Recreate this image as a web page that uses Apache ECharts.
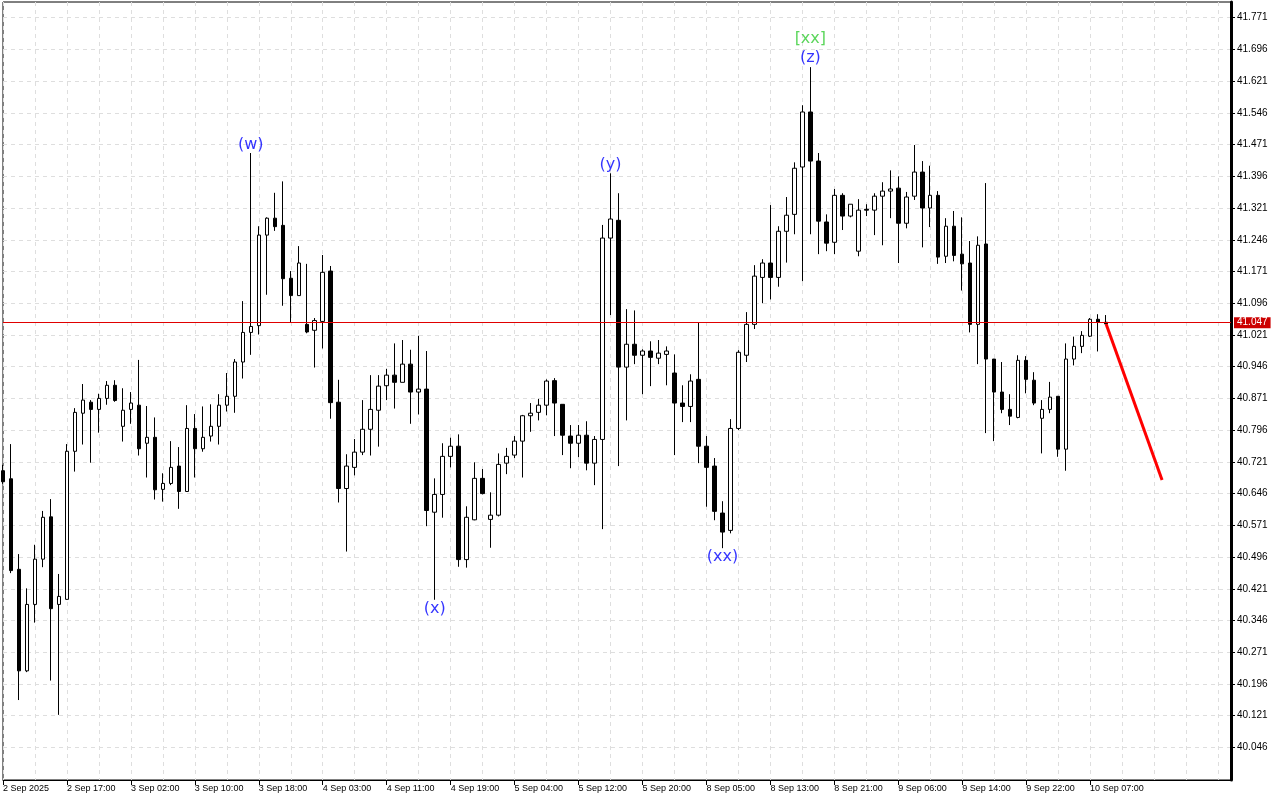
<!DOCTYPE html>
<html>
<head>
<meta charset="utf-8">
<title>Hourly chart</title>
<script src="https://cdn.jsdelivr.net/npm/echarts@6/dist/echarts.min.js"></script>
<style>
  html, body { margin: 0; padding: 0; background: #fff; }
  #chart { width: 1280px; height: 800px; }
</style>
</head>
<body>
<div id="chart"></div>
<script>
// time labels, one every 8 bars
var xLabels = ['2 Sep 2025', '2 Sep 17:00', '3 Sep 02:00', '3 Sep 10:00', '3 Sep 18:00', '4 Sep 03:00',
  '4 Sep 11:00', '4 Sep 19:00', '5 Sep 04:00', '5 Sep 12:00', '5 Sep 20:00', '8 Sep 05:00',
  '8 Sep 13:00', '8 Sep 21:00', '9 Sep 06:00', '9 Sep 14:00', '9 Sep 22:00', '10 Sep 07:00'];

var yTicks = [40.046, 40.121, 40.196, 40.271, 40.346, 40.421, 40.496, 40.571, 40.646, 40.721, 40.796, 40.871,
  40.946, 41.021, 41.096, 41.171, 41.246, 41.321, 41.396, 41.471, 41.546, 41.621, 41.696, 41.771];

// hourly candles, bar 0 .. 138
var opens = [40.700, 40.681, 40.467, 40.227, 40.384, 40.491, 40.591, 40.384, 40.396, 40.746,
  40.836, 40.862, 40.845, 40.871, 40.902, 40.805, 40.845, 40.855, 40.765, 40.779,
  40.656, 40.670, 40.711, 40.651, 40.800, 40.752, 40.782, 40.805, 40.855, 40.876,
  40.957, 41.027, 41.043, 41.257, 41.297, 41.280, 41.155, 41.114, 41.046, 41.032,
  41.053, 41.172, 40.862, 40.658, 40.708, 40.744, 40.798, 40.843, 40.901, 40.926,
  40.909, 40.952, 40.886, 40.893, 40.602, 40.644, 40.734, 40.758, 40.490, 40.584,
  40.682, 40.585, 40.595, 40.718, 40.737, 40.770, 40.830, 40.838, 40.855, 40.913,
  40.857, 40.782, 40.765, 40.784, 40.718, 40.774, 41.250, 41.292, 40.945, 40.999,
  40.973, 40.983, 40.966, 40.975, 40.931, 40.860, 40.852, 40.916, 40.758, 40.711,
  40.600, 40.559, 40.800, 40.973, 41.046, 41.157, 41.191, 41.157, 41.266, 41.306,
  41.418, 41.548, 41.432, 41.288, 41.240, 41.351, 41.302, 41.219, 41.318, 41.316,
  41.349, 41.361, 41.368, 41.285, 41.349, 41.406, 41.321, 41.351, 41.207, 41.278,
  41.212, 41.191, 41.046, 41.236, 40.964, 40.886, 40.845, 40.826, 40.961, 40.914,
  40.824, 40.845, 40.876, 40.751, 40.964, 40.994, 41.018, 41.058, 41.051];
var closes = [40.674, 40.464, 40.227, 40.384, 40.491, 40.590, 40.374, 40.403, 40.746, 40.838,
  40.867, 40.845, 40.871, 40.902, 40.866, 40.843, 40.860, 40.752, 40.779, 40.655,
  40.670, 40.708, 40.651, 40.800, 40.752, 40.779, 40.805, 40.855, 40.876, 40.957,
  41.027, 41.041, 41.257, 41.297, 41.277, 41.154, 41.114, 41.191, 41.028, 41.055,
  41.169, 40.861, 40.658, 40.711, 40.744, 40.798, 40.845, 40.900, 40.926, 40.909,
  40.952, 40.886, 40.893, 40.606, 40.644, 40.734, 40.758, 40.490, 40.590, 40.682,
  40.646, 40.595, 40.715, 40.734, 40.770, 40.830, 40.836, 40.855, 40.912, 40.860,
  40.784, 40.765, 40.784, 40.718, 40.774, 41.250, 41.295, 40.945, 40.999, 40.973,
  40.983, 40.968, 40.978, 40.983, 40.860, 40.852, 40.912, 40.758, 40.708, 40.604,
  40.555, 40.800, 40.980, 41.046, 41.160, 41.191, 41.157, 41.266, 41.304, 41.415,
  41.548, 41.432, 41.290, 41.238, 41.351, 41.302, 41.330, 41.316, 41.316, 41.349,
  41.361, 41.366, 41.285, 41.347, 41.406, 41.321, 41.351, 41.205, 41.278, 41.209,
  41.189, 41.046, 41.233, 40.964, 40.886, 40.845, 40.829, 40.961, 40.916, 40.860,
  40.845, 40.874, 40.751, 40.964, 40.994, 41.020, 41.058, 41.051, 41.047];
var lows = [40.669, 40.458, 40.158, 40.224, 40.341, 40.472, 40.204, 40.123, 40.395, 40.698,
  40.762, 40.719, 40.790, 40.856, 40.863, 40.769, 40.811, 40.736, 40.684, 40.632,
  40.627, 40.666, 40.610, 40.650, 40.684, 40.745, 40.769, 40.762, 40.840, 40.837,
  40.918, 40.974, 41.022, 41.116, 41.267, 41.090, 41.050, 41.114, 41.025, 40.944,
  40.989, 40.823, 40.625, 40.509, 40.689, 40.737, 40.736, 40.757, 40.867, 40.847,
  40.909, 40.811, 40.833, 40.569, 40.395, 40.589, 40.708, 40.473, 40.471, 40.583,
  40.644, 40.518, 40.592, 40.692, 40.730, 40.684, 40.792, 40.819, 40.831, 40.782,
  40.737, 40.706, 40.732, 40.701, 40.666, 40.562, 41.068, 40.711, 40.819, 40.952,
  40.881, 40.900, 40.952, 40.902, 40.737, 40.815, 40.815, 40.718, 40.615, 40.583,
  40.517, 40.552, 40.796, 40.957, 41.035, 41.096, 41.105, 41.135, 41.192, 41.259,
  41.148, 41.259, 41.212, 41.219, 41.212, 41.269, 41.299, 41.207, 41.302, 41.257,
  41.233, 41.297, 41.191, 41.273, 41.340, 41.228, 41.276, 41.189, 41.191, 41.195,
  41.126, 41.027, 40.952, 40.789, 40.770, 40.836, 40.808, 40.824, 40.883, 40.855,
  40.741, 40.836, 40.733, 40.700, 40.949, 40.978, 41.016, 40.982, 41.047];
var highs = [40.714, 40.763, 40.503, 40.422, 40.525, 40.605, 40.633, 40.456, 40.763, 40.848,
  40.905, 40.867, 40.882, 40.912, 40.914, 40.895, 40.886, 40.962, 40.853, 40.826,
  40.694, 40.770, 40.756, 40.855, 40.834, 40.852, 40.857, 40.881, 40.931, 40.964,
  41.101, 41.451, 41.278, 41.299, 41.357, 41.384, 41.172, 41.231, 41.189, 41.061,
  41.210, 41.184, 40.915, 40.739, 40.775, 40.867, 40.926, 40.926, 40.941, 41.001,
  41.009, 40.986, 41.019, 40.983, 40.682, 40.765, 40.778, 40.786, 40.616, 40.720,
  40.704, 40.649, 40.741, 40.754, 40.782, 40.832, 40.860, 40.870, 40.916, 40.919,
  40.857, 40.808, 40.808, 40.817, 40.782, 41.281, 41.403, 41.356, 41.082, 41.079,
  40.987, 41.006, 41.009, 40.994, 40.975, 40.902, 40.928, 41.051, 40.782, 40.730,
  40.628, 40.822, 40.985, 41.075, 41.186, 41.200, 41.328, 41.278, 41.347, 41.429,
  41.564, 41.654, 41.451, 41.306, 41.366, 41.356, 41.330, 41.342, 41.330, 41.356,
  41.382, 41.410, 41.396, 41.359, 41.470, 41.432, 41.421, 41.361, 41.297, 41.314,
  41.299, 41.243, 41.254, 41.380, 40.964, 40.957, 40.881, 40.973, 40.971, 40.933,
  40.867, 40.910, 40.876, 41.001, 41.017, 41.030, 41.061, 41.070, 41.068];

var lastPrice = 41.047;

// projected move
var forecastBars = [138, 145];
var forecastPrices = [41.047, 40.678];

// wave marks
var waveText = ['(w)', '(x)', '(y)', '(xx)', '(z)'];
var waveBars = [31, 54, 76, 90, 101];
var wavePrices = [41.470, 40.373, 41.423, 40.496, 41.676];
var degreeText = ['[xx]'];
var degreeBars = [101];
var degreePrices = [41.721];

var chart = echarts.init(document.getElementById('chart'));

var candles = opens.map(function (o, i) {
  return [i, o, closes[i], lows[i], highs[i]];
});
var labelBars = xLabels.map(function (t, i) { return i * 8; });
var gridDash = { color: '#dedede', type: [4, 4], width: 1 };
var axisFont = { color: '#000', fontFamily: 'Liberation Sans, Arial, sans-serif' };

function marks(texts, bars, prices) {
  return texts.map(function (t, i) {
    return { value: [bars[i], prices[i]], name: t };
  });
}

chart.setOption({
  animation: false,
  backgroundColor: '#fff',
  grid: {
    left: 2, top: 2, right: 49, bottom: 20,
    show: true, borderColor: '#000', borderWidth: 1
  },
  xAxis: [
    {
      type: 'value', min: 0, max: 153.625, interval: 4,
      axisLine: { show: false }, axisTick: { show: false }, axisLabel: { show: false },
      splitLine: { show: true, lineStyle: gridDash }
    },
    {
      type: 'value', position: 'bottom', min: 0, max: 153.625,
      axisLine: { show: true, onZero: false, lineStyle: { color: '#000', width: 1 } },
      axisTick: { show: true, customValues: labelBars, length: 5, lineStyle: { color: '#000' } },
      axisLabel: Object.assign({
        customValues: labelBars, align: 'left', fontSize: 9, margin: 4,
        formatter: function (v) { return xLabels[Math.round(v / 8)] || ''; }
      }, axisFont),
      splitLine: { show: false }
    }
  ],
  yAxis: {
    type: 'value', position: 'right', min: 39.969, max: 41.808,
    axisLine: { show: true, onZero: false, lineStyle: { color: '#000', width: 3 } },
    axisTick: { show: true, customValues: yTicks, length: 4, lineStyle: { color: '#000' } },
    axisLabel: Object.assign({
      customValues: yTicks, fontSize: 10, margin: 6,
      formatter: function (v) { return v.toFixed(3); }
    }, axisFont),
    splitLine: { show: true, lineStyle: gridDash }
  },
  series: [
    {
      type: 'candlestick',
      xAxisIndex: 0,
      data: candles,
      dimensions: ['bar', 'open', 'close', 'low', 'high'],
      encode: { x: 0, y: [1, 2, 3, 4] },
      barWidth: 4,
      itemStyle: {
        color: '#ffffff', color0: '#000000',
        borderColor: '#000000', borderColor0: '#000000', borderWidth: 1
      },
      markLine: {
        silent: true,
        symbol: ['none', 'none'],
        lineStyle: { color: '#e00000', width: 1, type: 'solid' },
        label: {
          position: 'end', distance: 3,
          formatter: function () { return lastPrice.toFixed(3); },
          color: '#fff', backgroundColor: '#cc0000', padding: [1, 3, 0, 3],
          fontSize: 10, fontFamily: 'Liberation Sans, Arial, sans-serif'
        },
        data: [{ yAxis: lastPrice }]
      }
    },
    {
      type: 'line',
      xAxisIndex: 0,
      data: forecastBars.map(function (b, i) { return [b, forecastPrices[i]]; }),
      symbol: 'none',
      lineStyle: { color: '#ff0000', width: 3 },
      z: 5
    },
    {
      type: 'scatter',
      xAxisIndex: 0,
      data: marks(waveText, waveBars, wavePrices),
      symbolSize: 1,
      itemStyle: { color: 'rgba(0,0,0,0)' },
      label: {
        show: true, position: 'inside', formatter: '{b}',
        color: '#0000ff', fontSize: 16, fontFamily: 'DejaVu Sans, sans-serif'
      },
      z: 6
    },
    {
      type: 'scatter',
      xAxisIndex: 0,
      data: marks(degreeText, degreeBars, degreePrices),
      symbolSize: 1,
      itemStyle: { color: 'rgba(0,0,0,0)' },
      label: {
        show: true, position: 'inside', formatter: '{b}',
        color: '#33cc33', fontSize: 16, fontFamily: 'DejaVu Sans, sans-serif'
      },
      z: 6
    }
  ]
});
</script>
</body>
</html>
